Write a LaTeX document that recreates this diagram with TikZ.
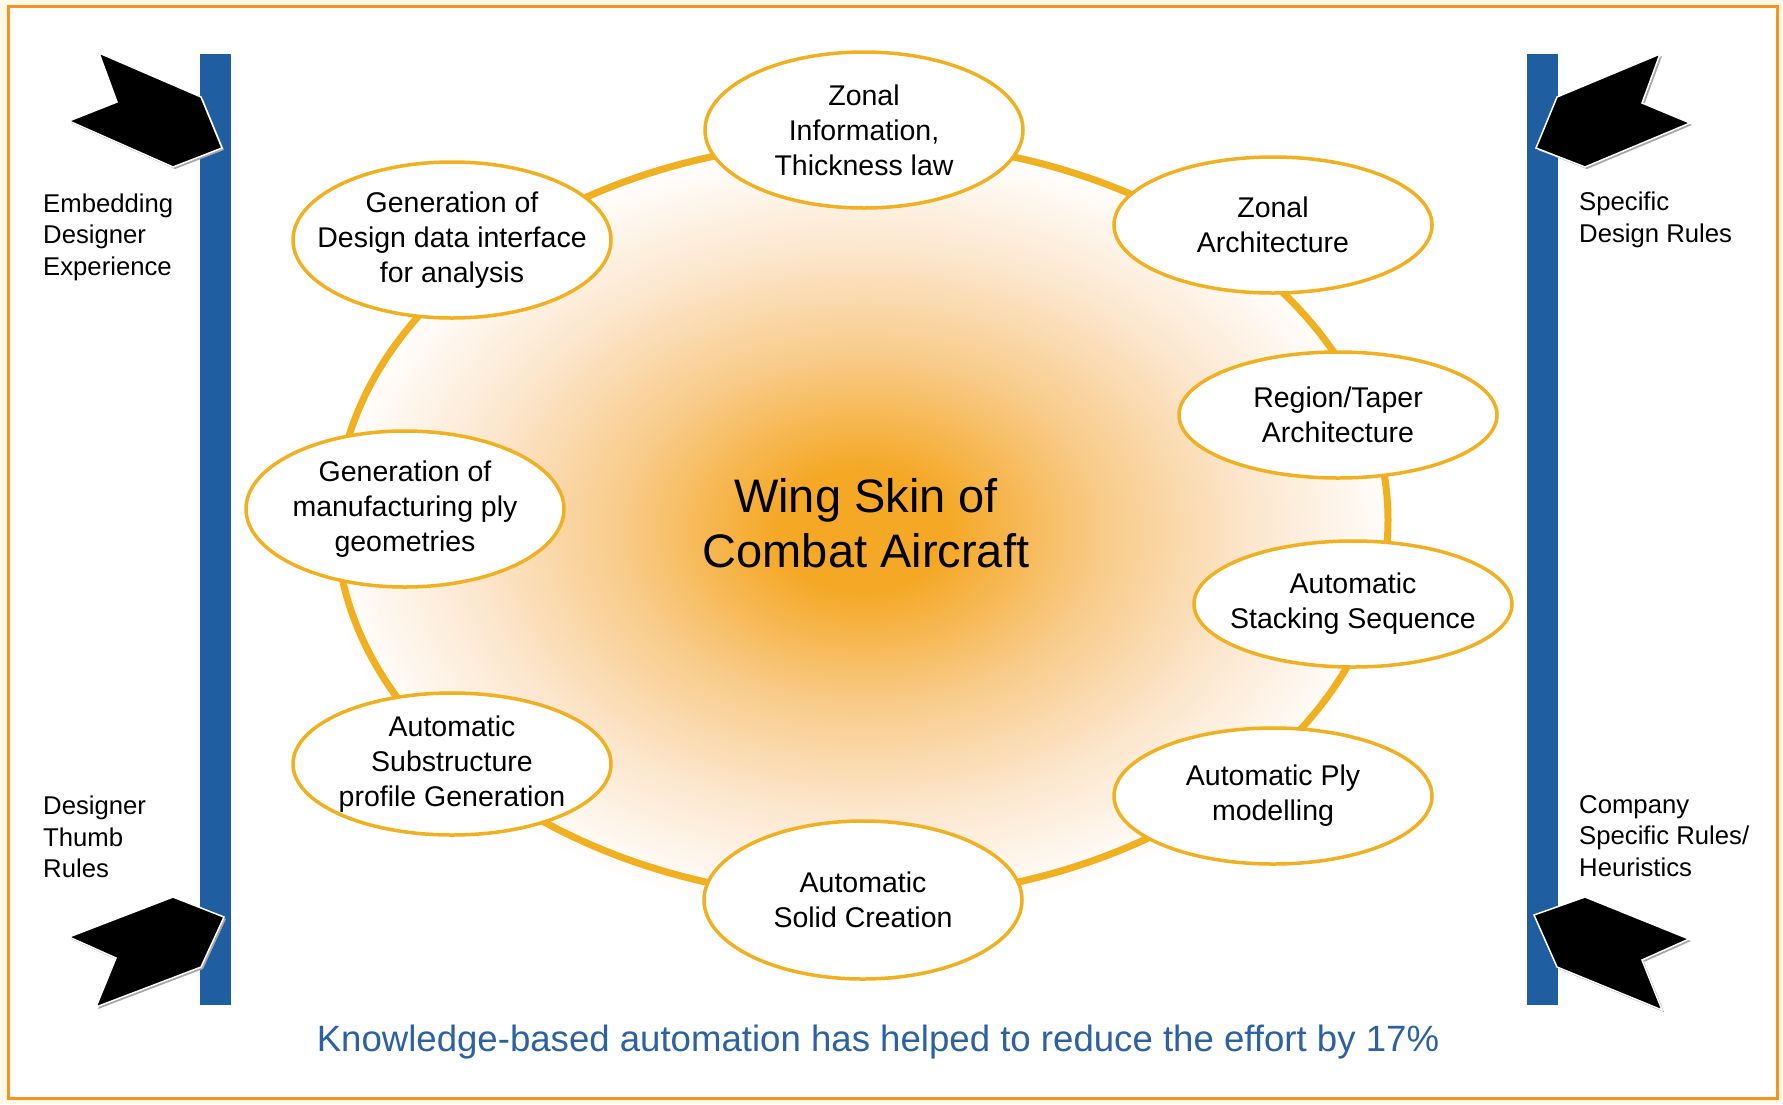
\documentclass[tikz,border=0pt]{standalone}
\usepackage{fontspec}
\setmainfont{Liberation Sans}
\usepackage{xcolor}
\usetikzlibrary{shapes.geometric,shadows}

\definecolor{frameorange}{RGB}{247,148,30}
\definecolor{cream}{RGB}{255,250,232}
\definecolor{gold}{RGB}{240,176,32}
\definecolor{barblue}{RGB}{31,94,160}
\definecolor{noteblue}{RGB}{44,97,163}
\definecolor{coreorange}{RGB}{245,168,38}
\definecolor{midpeach}{RGB}{248,202,135}
\definecolor{palepeach}{RGB}{252,230,205}

\pgfdeclareradialshading{glow}{\pgfpoint{0bp}{0bp}}{color(0bp)=(coreorange); color(4bp)=(coreorange); color(11bp)=(midpeach); color(18bp)=(palepeach); color(25bp)=(white); color(50bp)=(white)}

\begin{document}
\begin{tikzpicture}[x=1pt, y=-1pt,
  stage/.style={ellipse, draw=gold, line width=3.5pt, fill=white, inner xsep=-60pt, inner ysep=-40pt,
    minimum width=318pt, align=center, font=\fontsize{28.5}{35}\selectfont},
  sidenote/.style={align=left, anchor=west, inner sep=0pt, font=\fontsize{25.7}{31.5}\selectfont},
  ring/.style={draw=gold, line width=7pt},
  pointer/.style={fill=black, draw=white, line width=1.5pt,
    drop shadow={shadow xshift=2pt, shadow yshift=-2pt, fill=black!35, opacity=1}}]

\useasboundingbox (0,0) rectangle (1783,1104);
\fill[cream] (0,0) rectangle (1783,1104);
\filldraw[fill=white, draw=frameorange, line width=3pt] (8,6) rectangle (1777,1098);

\shade[shading=glow] (862,530) ellipse [x radius=540pt, y radius=390pt];
\draw[ring] (862,520) ellipse [x radius=526pt, y radius=379pt];

\node[stage, minimum height=156pt] (zonal) at (864,130) {Zonal\\Information,\\Thickness law};
\node[stage, minimum height=136pt] (zonearch) at (1273,225) {Zonal\\Architecture};
\node[stage, minimum height=126pt] (taper) at (1338,415) {Region/Taper\\Architecture};
\node[stage, minimum height=126pt] (stacking) at (1353,604) {Automatic\\Stacking Sequence};
\node[stage, minimum height=136pt] (plymodel) at (1273,796) {Automatic Ply\\modelling};
\node[stage, minimum height=158pt] (solid) at (863,900) {Automatic\\Solid Creation};
\node[stage, minimum height=142pt] (substruct) at (452,764) {Automatic\\Substructure\\profile Generation};
\node[stage, minimum height=156pt] (manuf) at (405,509) {Generation of\\manufacturing ply\\geometries};
\node[stage, minimum height=156pt] (interface) at (452,240) {Generation of\\Design data interface\\for analysis};

\node[align=center, font=\fontsize{47}{55}\selectfont] (title) at (866,523) {Wing Skin of\\Combat Aircraft};

\fill[barblue] (200,54) rectangle (231,1005);
\fill[barblue] (1527,54) rectangle (1558,1005);

\filldraw[pointer] (99,53) -- (201,97) -- (222,148) -- (173,167) -- (69,121) -- (117,102) -- cycle;
\filldraw[pointer] (69,937) -- (173,897) -- (224,917) -- (201,967) -- (96,1007) -- (116,958) -- cycle;
\filldraw[pointer] (1660,54) -- (1557,97) -- (1536,148) -- (1585,167) -- (1690,123) -- (1642,103) -- cycle;
\filldraw[pointer] (1689,939) -- (1585,897) -- (1534,915) -- (1557,967) -- (1662,1010) -- (1642,960) -- cycle;

\node[sidenote] (experience) at (43,237) {Embedding\\Designer\\Experience};
\node[sidenote] (thumb) at (43,837) {Designer\\Thumb\\Rules};
\node[sidenote] (specific) at (1579,220) {Specific\\Design Rules};
\node[sidenote] (heuristics) at (1579,836) {Company\\Specific Rules/\\Heuristics};

\node[anchor=base, text=noteblue, font=\fontsize{36.6}{44}\selectfont] (effort) at (878,1051) {Knowledge-based automation has helped to reduce the effort by 17\%};

\end{tikzpicture}
\end{document}
